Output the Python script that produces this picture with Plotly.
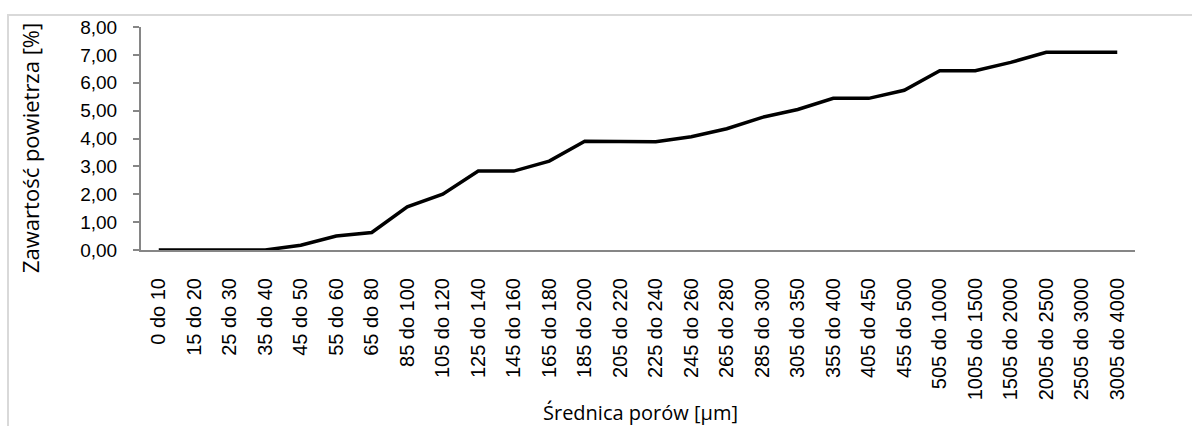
import plotly.graph_objects as go

categories = ["0 do 10", "15 do 20", "25 do 30", "35 do 40", "45 do 50", "55 do 60",
              "65 do 80", "85 do 100", "105 do 120", "125 do 140", "145 do 160",
              "165 do 180", "185 do 200", "205 do 220", "225 do 240", "245 do 260",
              "265 do 280", "285 do 300", "305 do 350", "355 do 400", "405 do 450",
              "455 do 500", "505 do 1000", "1005 do 1500", "1505 do 2000",
              "2005 do 2500", "2505 do 3000", "3005 do 4000"]
values = [0.0, 0.0, 0.0, 0.0, 0.17, 0.50, 0.63, 1.55, 2.00, 2.83, 2.83, 3.19,
          3.90, 3.90, 3.88, 4.06, 4.35, 4.76, 5.04, 5.44, 5.44, 5.73, 6.43,
          6.43, 6.73, 7.09, 7.09, 7.09]
y_ticks = [0, 1, 2, 3, 4, 5, 6, 7, 8]

W, H = 1192, 426
L, R, T, B = 141, 57, 27, 176
pw, ph = W - L - R, H - T - B

def px(x):
    return (x - L) / pw

def py(y):
    return (H - B - y) / ph

fig = go.Figure()
fig.add_trace(go.Scatter(x=categories, y=values, mode="lines",
                         line=dict(color="#000000", width=3.5), showlegend=False,
                         hoverinfo="skip"))

fig.update_layout(
    width=W, height=H,
    margin=dict(l=L, r=R, t=T, b=B),
    paper_bgcolor="white", plot_bgcolor="white",
    separators=", ",
    font=dict(family="Liberation Sans, Arial, sans-serif", color="#000000"),
    xaxis=dict(type="category", showgrid=False, showline=True, linecolor="#868686",
               linewidth=2, ticks="", tickangle=-90, tickfont=dict(size=20),
               ticklabelstandoff=18, range=[-0.5, len(categories) - 0.5], zeroline=False),
    yaxis=dict(range=[0, 8], tickvals=y_ticks, tickformat=".2f", showgrid=False,
               showline=True, linecolor="#868686", linewidth=2, ticks="outside",
               ticklen=6, tickcolor="#868686", tickwidth=1.5, tickfont=dict(size=19),
               ticklabelstandoff=12, zeroline=False),
    shapes=[dict(type="rect", xref="paper", yref="paper",
                 x0=px(8), x1=px(1300), y0=py(15), y1=py(500),
                 line=dict(color="#d9d9d9", width=2), fillcolor="rgba(0,0,0,0)", layer="below")],
    annotations=[
        dict(text="Zawartość powietrza [%]", xref="paper", yref="paper",
             x=px(30), y=py(148), textangle=-90, showarrow=False,
             xanchor="center", yanchor="middle",
             font=dict(family="Open Sans, sans-serif", size=22)),
        dict(text="Średnica porów [µm]", xref="paper", yref="paper",
             x=px(640), y=py(412), showarrow=False, xanchor="center", yanchor="middle",
             font=dict(family="Open Sans, sans-serif", size=20)),
    ],
)

fig.write_html("out.html", config={"displayModeBar": False},
               post_script="document.body.style.margin='0px';document.body.style.overflow='hidden';")
